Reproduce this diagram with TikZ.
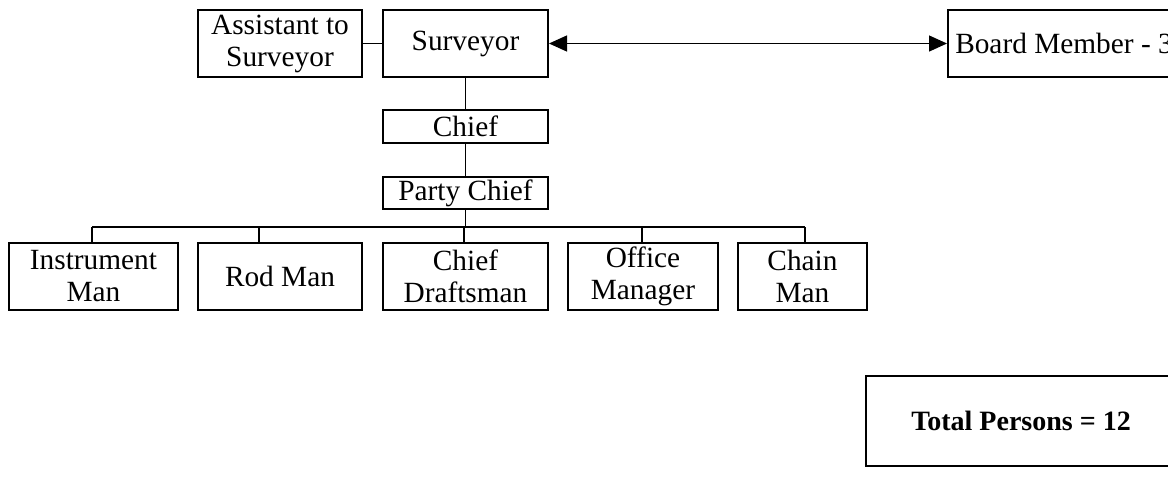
\documentclass[tikz,border=0pt]{standalone}
\usepackage{fontspec}
\setmainfont{Liberation Serif}
\usetikzlibrary{arrows.meta}
\begin{document}
\begin{tikzpicture}[x=0.75pt,y=-0.75pt,
  box/.style={draw, line width=1.5pt, inner sep=0pt, align=center,
    font=\fontsize{22}{24}\selectfont},
  link/.style={line width=1pt},
  bothtips/.style={{Triangle[length=13.5pt,width=12pt]}-{Triangle[length=13.5pt,width=12pt]}},
]
\useasboundingbox (0,0) rectangle (1168,476);
\clip (0,0) rectangle (1168,476);

% top row
\node[box, minimum width=123pt, minimum height=50.25pt] (asst) at (280,43.5) {Assistant to\\Surveyor};
\node[box, minimum width=123.75pt, minimum height=50.25pt] (surv) at (465.5,43.5) {Surveyor};
\node[box, minimum width=174pt, minimum height=50.25pt] (board) at (1064,43.5) {Board Member - 3};

% chain of command
\node[box, minimum width=123.75pt, minimum height=24.75pt] (chief) at (465.5,126.5) {Chief};
\node[box, minimum width=123.75pt, minimum height=24pt] (party) at (465.5,193) {Party Chief};

% field and office staff
\node[box, minimum width=126.75pt, minimum height=50.25pt] (instr) at (93.5,276.5) {Instrument\\Man};
\node[box, minimum width=123pt, minimum height=50.25pt] (rod) at (280,276.5) {Rod Man};
\node[box, minimum width=123.75pt, minimum height=50.25pt] (draft) at (465.5,276.5) {Chief\\Draftsman};
\node[box, minimum width=112.5pt, minimum height=50.25pt] (office) at (643,276.5) {Office\\Manager};
\node[box, minimum width=96.75pt, minimum height=50.25pt] (chain) at (802.5,276.5) {Chain\\Man};

% summary
\node[box, minimum width=232.5pt, minimum height=67.5pt,
  font=\fontsize{21}{24}\selectfont\bfseries] (total) at (1021,421) {Total Persons = 12};

% connectors
\draw[link] (asst.east) -- (surv.west);
\draw[link, bothtips] (surv.east) -- (board.west);
\draw[link] (surv.south) -- (chief.north);
\draw[link] (chief.south) -- (party.north);

\coordinate (t1) at (92,227);
\coordinate (t2) at (259,227);
\coordinate (t3) at (464,227);
\coordinate (t4) at (642,227);
\coordinate (t5) at (805,227);
\draw[link] (party.south) -- (party.south |- t3);
\draw[link] (t1) -- (t5);
\draw[link] (t1) -- (t1 |- instr.north);
\draw[link] (t2) -- (t2 |- rod.north);
\draw[link] (t3) -- (t3 |- draft.north);
\draw[link] (t4) -- (t4 |- office.north);
\draw[link] (t5) -- (t5 |- chain.north);
\end{tikzpicture}
\end{document}
